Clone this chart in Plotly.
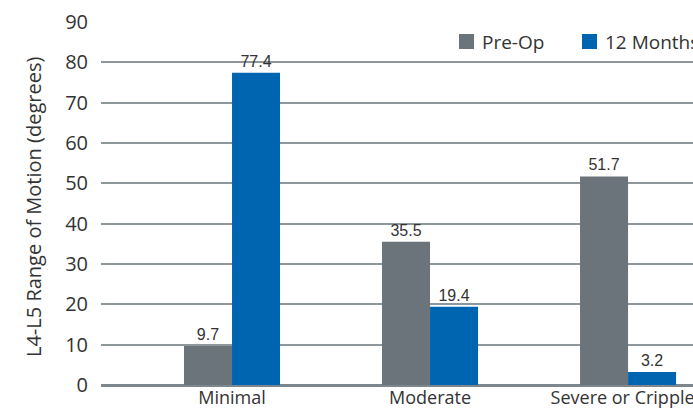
import plotly.graph_objects as go

# Range of motion at the L4-L5 level, grouped by degeneration grade
categories = ["Minimal", "Moderate", "Severe or Crippled"]
pre_op = [9.7, 35.5, 51.7]
months_12 = [77.4, 19.4, 3.2]
series_names = ["Pre-Op", "12 Months"]
y_ticks = [0, 10, 20, 30, 40, 50, 60, 70, 80, 90]
y_title = "L4-L5 Range of Motion (degrees)"

GRAY = "#6a747a"
BLUE = "#0065b1"
TEXT = "#333333"
FONT = "Open Sans"
colors = [GRAY, BLUE]

fig = go.Figure()
for name, vals, color in zip(series_names, [pre_op, months_12], colors):
    fig.add_trace(go.Bar(
        x=categories, y=vals, name=name,
        marker=dict(color=color, line=dict(width=0)),
        text=[f"{v:.1f}" for v in vals],
        textposition="outside",
        textfont=dict(family="Liberation Sans", size=16, color=TEXT),
        cliponaxis=False,
        showlegend=False,
    ))

# Pixel helpers for placing the legend and axis title in paper space
PLOT_L, PLOT_W, PLOT_B, PLOT_H = 101, 592, 385, 363


def px_x(v):
    return (v - PLOT_L) / PLOT_W


def px_y(v):
    return (PLOT_B - v) / PLOT_H


# Legend: square swatches with labels in the upper right
swatch_left = [459, 582]
for name, color, left in zip(series_names, colors, swatch_left):
    fig.add_shape(
        type="rect", xref="paper", yref="paper",
        x0=px_x(left), x1=px_x(left + 15), y0=px_y(49), y1=px_y(34),
        fillcolor=color, line=dict(width=0),
    )
    fig.add_annotation(
        xref="paper", yref="paper", x=px_x(left + 21), y=px_y(41.5),
        xanchor="left", yanchor="middle", showarrow=False,
        text=name, font=dict(family=FONT, size=19, color=TEXT),
    )

# Vertical y-axis title
fig.add_annotation(
    xref="paper", yref="paper", x=px_x(34), y=px_y(207),
    xanchor="center", yanchor="middle", showarrow=False, textangle=-90,
    text=y_title, font=dict(family=FONT, size=20, color=TEXT),
)

fig.update_layout(
    width=693, height=414,
    margin=dict(l=101, r=0, t=22, b=29, autoexpand=False),
    paper_bgcolor="white", plot_bgcolor="white",
    barmode="group", bargap=0.515, bargroupgap=0,
    font=dict(family=FONT, color=TEXT),
    xaxis=dict(
        range=[-0.6616, 2.328], automargin=False,
        showgrid=False, showline=False, ticks="",
        tickfont=dict(family=FONT, size=18, color=TEXT),
    ),
    yaxis=dict(
        range=[0, 90], tickvals=y_ticks, automargin=False,
        showgrid=True, gridcolor="#8e979c", gridwidth=1.5,
        zeroline=True, zerolinecolor="#7d878d", zerolinewidth=3,
        showline=False, ticks="",
        ticklabelstandoff=12,
        tickfont=dict(family=FONT, size=20, color=TEXT),
    ),
)

fig.write_html("out.html")
